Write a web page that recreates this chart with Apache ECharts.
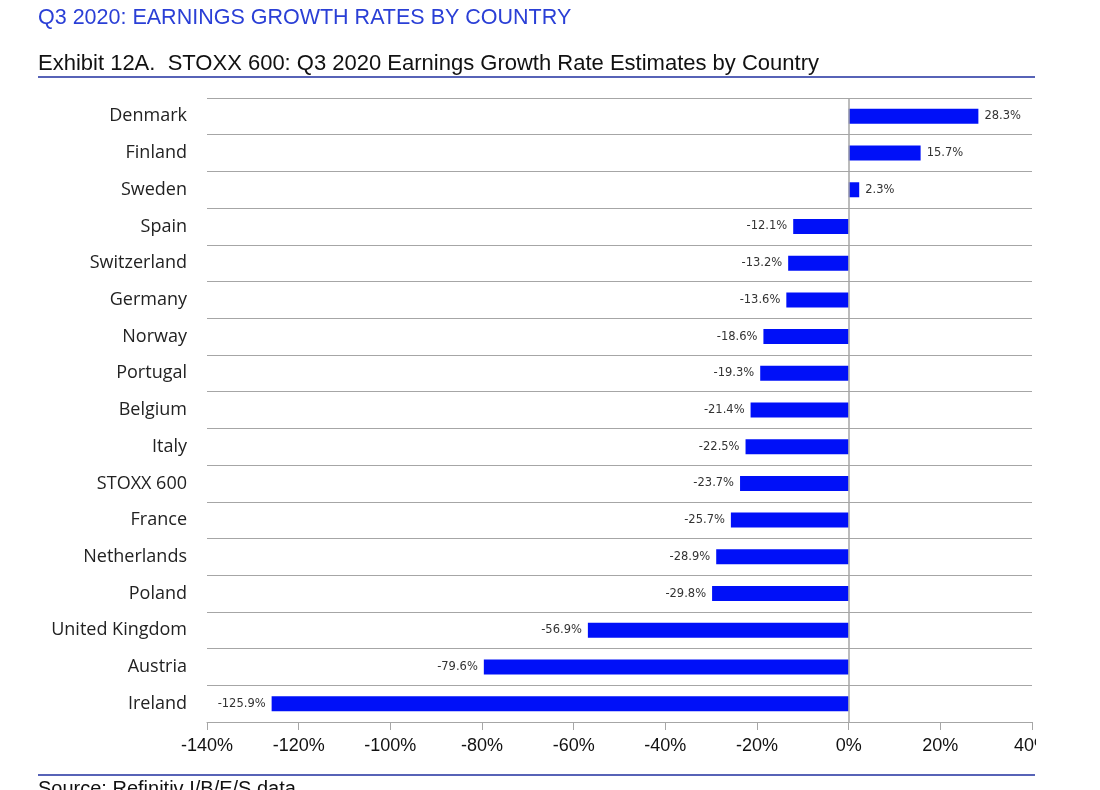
<!DOCTYPE html>
<html>
<head>
<meta charset="utf-8">
<script src="https://cdn.jsdelivr.net/npm/echarts@6/dist/echarts.min.js"></script>
<style>
html,body{margin:0;padding:0;background:#fff;}
#chart{width:1100px;height:790px;}
</style>
</head>
<body>
<div id="chart"></div>
<script>
const countries = ["Denmark","Finland","Sweden","Spain","Switzerland","Germany","Norway","Portugal","Belgium","Italy","STOXX 600","France","Netherlands","Poland","United Kingdom","Austria","Ireland"];
const growth = [28.3,15.7,2.3,-12.1,-13.2,-13.6,-18.6,-19.3,-21.4,-22.5,-23.7,-25.7,-28.9,-29.8,-56.9,-79.6,-125.9];
const titleText = "Q3 2020: EARNINGS GROWTH RATES BY COUNTRY";
const subtitleText = "Exhibit 12A.  STOXX 600: Q3 2020 Earnings Growth Rate Estimates by Country";
const sourceText = "Source: Refinitiv I/B/E/S data";

const chart = echarts.init(document.getElementById('chart'));
chart.setOption({
  backgroundColor: '#ffffff',
  animation: false,
  grid: {left: 207, right: 68, top: 98, bottom: 68},
  xAxis: {
    type: 'value', min: -140, max: 40, interval: 20,
    axisLine: {show: true, lineStyle: {color: '#a6a6a6', width: 1}},
    axisTick: {show: true, length: 8, lineStyle: {color: '#a6a6a6'}},
    splitLine: {show: false},
    axisLabel: {
      margin: 15, color: '#111', fontSize: 18,
      fontFamily: '"Liberation Sans Narrow", "Liberation Sans", Arial, sans-serif',
      formatter: v => v + '%'
    }
  },
  yAxis: {
    type: 'category', data: countries, inverse: true,
    axisLine: {show: false, onZero: false},
    axisTick: {show: false},
    splitLine: {show: true, lineStyle: {color: '#a6a6a6', width: 1.2}},
    axisLabel: {margin: 20, color: '#222', fontSize: 18, fontFamily: '"Open Sans", "Noto Sans", sans-serif'}
  },
  series: [{
    type: 'bar',
    data: growth.map(v => ({
      value: v,
      label: {position: v >= 0 ? 'right' : 'left'}
    })),
    barWidth: 15,
    itemStyle: {color: '#0010f8'},
    label: {
      show: true, distance: 6, color: '#333', fontSize: 11.5,
      fontFamily: '"DejaVu Sans", Verdana, sans-serif',
      formatter: p => p.value.toFixed(1) + '%'
    },
    markLine: {
      silent: true, symbol: 'none', label: {show: false},
      lineStyle: {color: '#a6a6a6', type: 'solid', width: 1.5},
      data: [{xAxis: 0}]
    }
  }],
  graphic: [
    {type: 'rect', shape: {x: 1036, y: 730, width: 64, height: 40}, style: {fill: '#ffffff'}, z: 100},
    {type: 'text', left: 38, top: 7, style: {text: titleText, fill: '#2a3fd6', fontSize: 21.5, fontFamily: '"Liberation Sans", Arial, sans-serif'}},
    {type: 'text', left: 38, top: 53, style: {text: subtitleText, fill: '#111', fontSize: 22, fontFamily: '"Liberation Sans", Arial, sans-serif'}},
    {type: 'line', shape: {x1: 38, y1: 77, x2: 1035, y2: 77}, style: {stroke: '#1f2f9f', lineWidth: 1.5}},
    {type: 'line', shape: {x1: 38, y1: 775, x2: 1035, y2: 775}, style: {stroke: '#1f2f9f', lineWidth: 1.5}},
    {type: 'text', left: 38, top: 779, style: {text: sourceText, fill: '#111', fontSize: 20, fontFamily: '"Liberation Sans", Arial, sans-serif'}}
  ]
});
</script>
</body>
</html>
